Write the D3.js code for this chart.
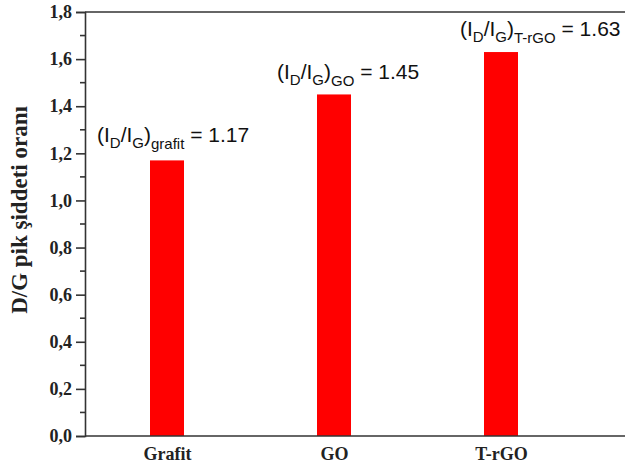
<!DOCTYPE html>
<html><head><meta charset="utf-8">
<script src="https://cdn.jsdelivr.net/npm/d3@7"></script>
<style>body{margin:0;background:#fff}svg{display:block}</style>
</head><body>
<svg id="c" width="625" height="469"></svg>
<script>
const categories = ["Grafit", "GO", "T-rGO"];
const values = [1.17, 1.45, 1.63];
const subscripts = ["grafit", "GO", "T-rGO"];
const valueLabels = ["1.17", "1.45", "1.63"];
const yTicks = [0, 0.2, 0.4, 0.6, 0.8, 1.0, 1.2, 1.4, 1.6, 1.8];

(function () {
const svg = d3.select("#c");
const mLeft = 85, mRight = 625, mTop = 12, mBottom = 436;
const x = d3.scalePoint().domain(categories).range([167, 501]);
const y = d3.scaleLinear().domain([0, 1.8]).range([mBottom, mTop]);
const barW = 34;
const serif = "Liberation Serif, Times New Roman, serif";

// bars
svg.selectAll("rect.bar").data(values).enter().append("rect")
  .attr("x", (d, i) => x(categories[i]) - barW / 2)
  .attr("y", d => y(d))
  .attr("width", barW)
  .attr("height", d => y(0) - y(d))
  .attr("fill", "#ff0000");

// y axis
const minor = d3.range(0.1, 1.8, 0.2);
const yAx = svg.append("g").attr("transform", `translate(${mLeft},0)`)
  .call(d3.axisLeft(y).tickValues(yTicks).tickSize(9).tickPadding(4)
    .tickFormat(d => d3.format(".1f")(d).replace(".", ",")));
yAx.select(".domain").attr("stroke", "#333").attr("stroke-width", 1.6);
yAx.selectAll(".tick line").attr("stroke", "#333").attr("stroke-width", 1.6);
yAx.selectAll("text").attr("font-family", serif)
  .attr("font-weight", "bold").attr("font-size", 18).attr("fill", "#222");
yAx.selectAll("line.minor").data(minor).enter().append("line").attr("class", "minor")
  .attr("x1", -5).attr("x2", 0).attr("y1", d => y(d)).attr("y2", d => y(d))
  .attr("stroke", "#333").attr("stroke-width", 1.6);

// x axis
const xAx = svg.append("g").attr("transform", `translate(0,${mBottom})`)
  .call(d3.axisBottom(x).tickSize(0).tickPadding(11));
xAx.select(".domain").attr("d", `M${mLeft},0H${mRight}`).attr("stroke", "#333").attr("stroke-width", 1.6);
xAx.selectAll("text").attr("font-family", serif)
  .attr("font-weight", "bold").attr("font-size", 18).attr("fill", "#222");

// top frame
svg.append("line").attr("x1", mLeft).attr("x2", mRight).attr("y1", mTop).attr("y2", mTop)
  .attr("stroke", "#333").attr("stroke-width", 1.6);

// y title
svg.append("text").attr("transform", `translate(27,210) rotate(-90)`)
  .attr("text-anchor", "middle")
  .attr("font-family", serif)
  .attr("font-weight", "bold").attr("font-size", 23).attr("fill", "#222")
  .text("D/G pik şiddeti oranı");

// annotations
const annX = [97, 277, 460];
const annDy = [18.5, 15.5, 16];
categories.forEach((c, i) => {
  const t = svg.append("text")
    .attr("x", annX[i]).attr("y", y(values[i]) - annDy[i])
    .attr("font-family", "Liberation Sans, Arial, sans-serif")
    .attr("font-size", 21).attr("fill", "#111");
  t.append("tspan").text("(I");
  t.append("tspan").attr("font-size", 15).attr("dy", 6).text("D");
  t.append("tspan").attr("dy", -6).text("/I");
  t.append("tspan").attr("font-size", 15).attr("dy", 6).text("G");
  t.append("tspan").attr("dy", -6).text(")");
  t.append("tspan").attr("font-size", 15).attr("dy", 7).text(subscripts[i]);
  t.append("tspan").attr("dy", -7).text(" = " + valueLabels[i]);
});
})();
</script>
</body></html>
